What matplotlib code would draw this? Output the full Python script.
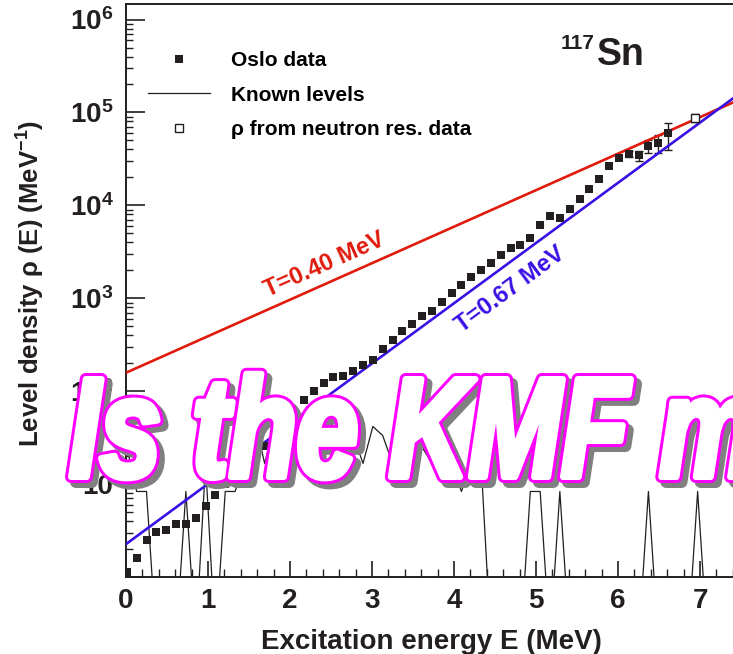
import numpy as np
import matplotlib
matplotlib.use("Agg")
import matplotlib.pyplot as plt
from matplotlib.textpath import TextPath
from matplotlib.patches import PathPatch
from matplotlib.font_manager import FontProperties
from matplotlib.transforms import Affine2D
from matplotlib.lines import Line2D
from matplotlib.ticker import FixedLocator, FuncFormatter, LogLocator, MultipleLocator, NullFormatter

plt.rcParams['font.family'] = ['Liberation Sans', 'DejaVu Sans']
plt.rcParams['font.weight'] = 'bold'
plt.rcParams['mathtext.fontset'] = 'custom'
plt.rcParams['mathtext.rm'] = 'Liberation Sans:bold'
plt.rcParams['mathtext.it'] = 'Liberation Sans:bold'
plt.rcParams['mathtext.bf'] = 'Liberation Sans:bold'

# ---- data -----------------------------------------------------------------
# excitation-energy bins (MeV), 120 keV wide
energy = [0.01, 0.13, 0.25, 0.37, 0.49, 0.61, 0.73, 0.85, 0.97, 1.09,
          1.21, 1.33, 1.45, 1.57, 1.69, 1.81, 1.93, 2.05, 2.17, 2.29,
          2.41, 2.53, 2.65, 2.77, 2.89, 3.01, 3.13, 3.25, 3.37, 3.49,
          3.61, 3.73, 3.85, 3.97, 4.09, 4.21, 4.33, 4.45, 4.57, 4.69,
          4.81, 4.93, 5.05, 5.17, 5.29, 5.41, 5.53, 5.65, 5.77, 5.89,
          6.01, 6.13, 6.25, 6.37, 6.49, 6.61, 6.73, 6.85, 6.97, 7.09,
          7.21, 7.33, 7.45]

# Oslo-method level density (MeV^-1)
oslo_rho = [1.12, 1.61, 2.51, 3.02, 3.21, 3.69, 3.75, 4.32, 5.77, 7.64,
            10.0, 13.1, 16.6, 20.9, 25.9, 33.9, 44.7, 60.3, 81.3, 101,
            122, 141, 147, 166, 191, 217, 284, 355, 447, 525,
            646, 735, 912, 1148, 1380, 1700, 2020, 2380, 2920, 3450,
            3750, 4430, 6110, 7640, 7380, 9080, 11800, 14900, 19100, 26400,
            32400, 35500, 34700, 43700, 46800, 59700]
# error bars on the highest-energy Oslo points (indices 51..55)
oslo_err_idx = [51, 52, 53, 54, 55]
oslo_err_low = [33000, 30200, 36500, 36500, 39700]
oslo_err_high = [38000, 38900, 50500, 57500, 77600]

# density of known discrete levels per bin (MeV^-1)
known_levels = [25, 8.33, 8.33, 0, 0, 0, 8.33, 0, 16.7, 0,
                8.33, 8.33, 16.7, 50, 16.7, 41.7, 25, 41.7, 33.3, 41.7,
                33.3, 41.7, 33.3, 33.3, 16.7, 41.7, 33.3, 16.7, 25, 33.3,
                25, 16.7, 25, 16.7, 8.33, 16.7, 16.7, 0, 0, 0,
                0, 8.33, 8.33, 0, 8.33, 0, 0, 0, 0, 0,
                0, 0, 0, 8.33, 0, 0, 0, 0, 8.33, 0,
                0, 0, 0]

# level density at the neutron separation energy from resonance data
neutron_E = [6.94]
neutron_rho = [87000]
neutron_low = [78000]
neutron_high = [95400]

# constant-temperature curves rho = rho0 * exp(E / T)
ct_red_rho0, ct_red_T = 158.0, 1.105
ct_blue_rho0, ct_blue_T = 2.26, 0.67
red_label = "T=0.40 MeV"
blue_label = "T=0.67 MeV"

x_ticks = [0, 1, 2, 3, 4, 5, 6, 7]
y_decades = [1, 10, 100, 1000, 10000, 100000, 1000000]

# ---- styling ---------------------------------------------------------------
ink = '#231f20'
red = '#e01a0c'
blue = '#3a10e6'
magenta = '#ff00ff'
shadow = '#808080'

W, H, DPI = 733, 654, 100
fig = plt.figure(figsize=(W / DPI, H / DPI), dpi=DPI)
ax = fig.add_axes([126 / W, 77 / H, (737 - 126) / W, (577 - 4) / H])
ax.set_yscale('log')
ax.set_xlim(0, 7.45)
ax.set_ylim(1, 1.47e6)

E = np.array(energy)
levels = np.array(known_levels, dtype=float)
floor = 0.2  # empty bins drop below the axis
ax.plot(E, np.where(levels > 0, levels, floor), '-', color=ink, lw=0.9, zorder=2)

n = len(oslo_rho)
ax.plot(E[:n], oslo_rho, 's', color=ink, ms=5.3, mew=0, zorder=4)
eidx = np.array(oslo_err_idx)
rho_e = np.array(oslo_rho)[eidx]
ax.errorbar(E[eidx], rho_e,
            yerr=[rho_e - np.array(oslo_err_low), np.array(oslo_err_high) - rho_e],
            fmt='none', ecolor=ink, elinewidth=1.0, capsize=2.8, capthick=1.0, zorder=3)

nr = np.array(neutron_rho)
ax.errorbar(neutron_E, nr,
            yerr=[nr - np.array(neutron_low), np.array(neutron_high) - nr],
            fmt='s', mfc='white', mec=ink, mew=1.0, ms=6, ecolor=ink,
            elinewidth=1.0, capsize=2.8, zorder=5)

e_line = np.linspace(0, 7.45, 200)
ax.plot(e_line, ct_red_rho0 * np.exp(e_line / ct_red_T), color=red, lw=1.9, zorder=3)
ax.plot(e_line, ct_blue_rho0 * np.exp(e_line / ct_blue_T), color=blue, lw=1.9, zorder=3)

def text_angle(rho0, T, e0):
    p1 = ax.transData.transform((e0, rho0 * np.exp(e0 / T)))
    p2 = ax.transData.transform((e0 + 0.5, rho0 * np.exp((e0 + 0.5) / T)))
    return np.degrees(np.arctan2(p2[1] - p1[1], p2[0] - p1[0]))

ax.text(2.42, 2300, red_label, color=red, fontsize=17, fontweight='bold',
        rotation=text_angle(ct_red_rho0, ct_red_T, 2.42), rotation_mode='anchor',
        ha='center', va='center', zorder=6)
ax.text(4.68, 1250, blue_label, color=blue, fontsize=17, fontweight='bold',
        rotation=text_angle(ct_blue_rho0, ct_blue_T, 4.68), rotation_mode='anchor',
        ha='center', va='center', zorder=6)

# axes cosmetics
for side in ['left', 'bottom', 'top']:
    ax.spines[side].set_linewidth(1.4)
    ax.spines[side].set_color(ink)
ax.spines['right'].set_visible(False)

ax.xaxis.set_major_locator(FixedLocator(x_ticks))
ax.xaxis.set_minor_locator(MultipleLocator(0.2))
ax.yaxis.set_major_locator(FixedLocator(y_decades))
ax.yaxis.set_minor_locator(LogLocator(base=10, subs=np.arange(2, 10), numticks=50))
ax.yaxis.set_minor_formatter(NullFormatter())

def ylab(v, pos):
    k = int(round(np.log10(v)))
    if k == 0:
        return ''
    if k == 1:
        return '10'
    return r'$10^{%d}$' % k

ax.yaxis.set_major_formatter(FuncFormatter(ylab))
ax.xaxis.set_major_formatter(FuncFormatter(lambda v, p: '%d' % v))
ax.tick_params(axis='x', which='major', direction='in', length=11.5, width=1.2,
               colors=ink, labelsize=20, pad=8, top=False)
ax.tick_params(axis='x', which='minor', direction='in', length=5.8, width=1.0,
               colors=ink, top=False)
ax.tick_params(axis='y', which='major', direction='in', length=13.7, width=1.2,
               colors=ink, labelsize=20, pad=9, right=False)
ax.tick_params(axis='y', which='minor', direction='in', length=5.2, width=1.0,
               colors=ink, right=False)
for lab in ax.get_xticklabels() + ax.get_yticklabels():
    lab.set_fontweight('bold')

ax.set_xlabel('Excitation energy E (MeV)', fontsize=20, fontweight='bold', color=ink, labelpad=11)
ax.set_ylabel(r'Level density ρ (E) (MeV$^{-1}$)', fontsize=18.5, fontweight='bold',
              color=ink)
ax.yaxis.set_label_coords(-0.129, 0.513)

handles = [Line2D([], [], ls='none', marker='s', ms=5.3, color=ink, mew=0),
           Line2D([], [], ls='-', lw=0.9, color=ink),
           Line2D([], [], ls='none', marker='s', ms=6, mfc='white', mec=ink, mew=1.0)]
ax.legend(handles, ['Oslo data', 'Known levels', 'ρ from neutron res. data'],
          loc='upper left', bbox_to_anchor=(0.036, 0.918), frameon=False,
          prop={'size': 15, 'weight': 'bold'}, handlelength=3.0, handletextpad=1.0,
          labelspacing=0.75, borderaxespad=0, borderpad=0)

fig.text(597 / W, 1 - 65 / H, 'Sn', fontsize=27, fontweight='bold', color=ink,
         ha='left', va='baseline')
fig.text(595 / W, 1 - 49 / H, '117', fontsize=15, fontweight='bold', color=ink,
         ha='right', va='baseline')

# ---- banner across the plot ------------------------------------------------
fp = FontProperties(family='Liberation Sans', weight='bold', style='italic')
banner = 'Is the KMF model?'
grow = 3.0      # extra stroke weight of the white letters, px
rim = 3.0       # width of the magenta rim, px
outer = grow + rim
tp_full = TextPath((0, 0), banner, size=100, prop=fp)
tp_part = TextPath((0, 0), 'Is the KMF', size=100, prop=fp)
tp_cap = TextPath((0, 0), 'I', size=100, prop=fp)
ext_part = tp_part.get_extents()
cap_h = tp_cap.get_extents().y1
sy = (110.0 - 2 * outer) / cap_h
sx = (637 - 65 - 2 * outer) / ext_part.width
to_px = Affine2D().scale(sx, sy).translate(65 + outer - ext_part.x0 * sx, H - 483 + outer)
path = to_px.transform_path(tp_full)
pix = Affine2D().scale(1.0 / W, 1.0 / H) + fig.transFigure
shift = Affine2D().translate(5, -5) + pix
pt = 72.0 / DPI

fig.add_artist(PathPatch(path, transform=shift, fc=shadow, ec=shadow,
                         lw=2 * outer * pt, joinstyle='round', zorder=10))
fig.add_artist(PathPatch(path, transform=pix, fc=magenta, ec=magenta,
                         lw=2 * outer * pt, joinstyle='round', zorder=11))
fig.add_artist(PathPatch(path, transform=pix, fc='white', ec='white',
                         lw=2 * grow * pt, joinstyle='round', zorder=12))

fig.savefig('out.png', dpi=DPI)
